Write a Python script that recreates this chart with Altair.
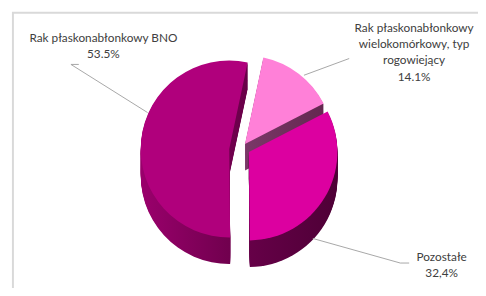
import math
import altair as alt
import pandas as pd

# ---- data ----
categories = ["Rak płaskonabłonkowy wielokomórkowy, typ rogowiejący", "Pozostałe", "Rak płaskonabłonkowy BNO"]
values = [14.1, 32.4, 53.5]
value_labels = ["14.1%", "32,4%", "53.5%"]
label_lines = ["Rak płaskonabłonkowy|wielokomórkowy, typ|rogowiejący", "Pozostałe", "Rak płaskonabłonkowy BNO"]

df = pd.DataFrame({"cat": categories, "value": values, "vlabel": value_labels, "lines": label_lines})

W, H = 478, 280
R = 90
DEPTH = 27
t0 = math.radians(12)
theta_scale = alt.Scale(domain=[0, 100], range=[t0, t0 + 2 * math.pi])

base = (
    alt.Chart(df)
    .transform_window(end="sum(value)", frame=[None, 0])
    .transform_calculate(start="datum.end - datum.value", text="datum.lines + '|' + datum.vlabel")
)

# slice styling: centre (chart px), top colour, side gradient
style = {
    categories[0]: dict(cx=241, cy=136, top="#FF80D8", side=("#7A3868", "#642850")),
    categories[1]: dict(cx=245, cy=144, top="#DC00A0", side=("#660048", "#4E0036")),
    categories[2]: dict(cx=225, cy=141, top="#B0007C", side=("#9A006C", "#680048")),
}


def grad(c1, c2):
    return alt.Gradient(
        gradient="linear",
        stops=[alt.GradientStop(color=c1, offset=0), alt.GradientStop(color=c2, offset=1)],
        x1=0, x2=1, y1=0, y2=0,
    )


def arc(cat, dy, fill):
    s = style[cat]
    return (
        base.transform_filter(alt.datum.cat == cat)
        .mark_arc(radius=R, fill=fill, strokeWidth=0)
        .encode(
            theta=alt.Theta("start:Q", scale=theta_scale),
            theta2="end:Q",
            x=alt.value(s["cx"]),
            y=alt.value(s["cy"] + dy),
        )
    )


layers = []

# border frame
layers.append(
    base.transform_filter(alt.datum.cat == categories[1])
    .mark_rect(fillOpacity=0, stroke="#D9D9D9", strokeWidth=2)
    .encode(x=alt.value(5), y=alt.value(2.5), x2=alt.value(W + 20), y2=alt.value(H + 20))
)

# sides (3D depth)
for cat in [categories[2], categories[0], categories[1]]:
    g = grad(*style[cat]["side"])
    for k in range(DEPTH, 0, -1):
        layers.append(arc(cat, k, g))

# tops
for cat in [categories[2], categories[0], categories[1]]:
    layers.append(arc(cat, 0, style[cat]["top"]))

# leader lines (chart px)
leaders = {
    categories[2]: [(72, 55, 64, 55), (64, 55, 142, 104)],
    categories[0]: [(347, 49, 301, 66)],
    categories[1]: [(399, 257, 408, 257), (399, 257, 310, 232)],
}
for cat, segs in leaders.items():
    for (x1, y1, x2, y2) in segs:
        layers.append(
            base.transform_filter(alt.datum.cat == cat)
            .mark_rule(color="#A6A6A6", strokeWidth=1)
            .encode(x=alt.value(x1), y=alt.value(y1), x2=alt.value(x2), y2=alt.value(y2))
        )

# labels
label_pos = {
    categories[2]: (97, 23),
    categories[0]: (413, 13),
    categories[1]: (441, 246),
}
for cat, (x, y) in label_pos.items():
    layers.append(
        base.transform_filter(alt.datum.cat == cat)
        .mark_text(
            font="Lato", fontSize=12, color="#404040", align="center", baseline="top",
            lineBreak="|", lineHeight=16.5,
        )
        .encode(text="text:N", x=alt.value(x), y=alt.value(y))
    )

chart = (
    alt.layer(*layers)
    .properties(width=W, height=H, padding=0, autosize=alt.AutoSizeParams(type="none"))
    .configure_view(stroke=None)
)

chart.save("out.html", embed_options={"renderer": "svg", "actions": False})
